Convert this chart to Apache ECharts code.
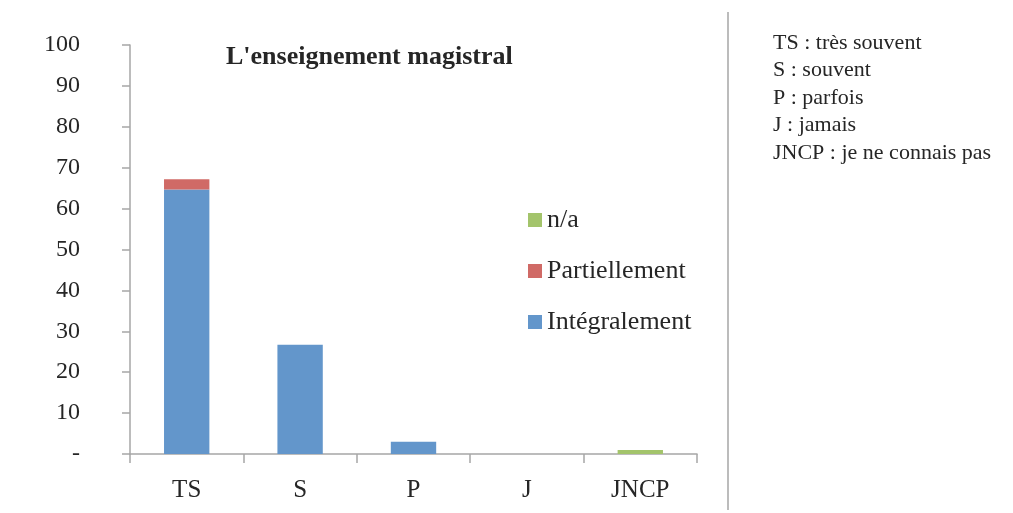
<!DOCTYPE html>
<html>
<head>
<meta charset="utf-8">
<script src="https://cdn.jsdelivr.net/npm/echarts@6/dist/echarts.min.js"></script>
<style>
  html, body { margin: 0; padding: 0; background: #fff; }
  #chartContainer { width: 1013px; height: 513px; }
</style>
</head>
<body>
<div id="chartContainer"></div>
<script>
'use strict';
// donnees
let categories = ['TS', 'S', 'P', 'J', 'JNCP'];
let integralement = [64.7, 26.7, 3.0, 0, 0];
let partiellement = [2.5, 0, 0, 0, 0];
let nonApplicable = [0, 0, 0, 0, 1.0];
let yTicks = [0, 10, 20, 30, 40, 50, 60, 70, 80, 90, 100];
let notes = ['TS : très souvent', 'S : souvent', 'P : parfois', 'J : jamais', 'JNCP : je ne connais pas'];

let serif = ['Liberation Serif', 'DejaVu Serif', 'serif'];

let initChart = (function() {
    let chartContainer = document.getElementById('chartContainer');
    let demoChart = echarts.init(chartContainer);

    let option = {
        backgroundColor: '#fff',
        animation: false,
        title: {
            text: "L'enseignement magistral",
            left: 221,
            top: 39,
            textStyle: {
                fontFamily: serif,
                fontWeight: 'bold',
                fontSize: 26,
                color: '#262626'
            }
        },
        legend: {
            data: [{ name: 'n/a', icon: 'rect' }, { name: 'Partiellement', icon: 'rect' }, { name: 'Intégralement', icon: 'rect' }],
            orient: 'vertical',
            left: 523,
            top: 202,
            itemWidth: 14,
            itemHeight: 14,
            itemGap: 25,
            textStyle: {
                fontFamily: serif,
                fontSize: 26,
                color: '#262626'
            }
        },
        grid: {
            left: 130,
            right: 1013 - 697,
            top: 45,
            bottom: 513 - 454
        },
        xAxis: {
            type: 'category',
            data: categories,
            axisLine: { lineStyle: { color: '#a6a6a6', width: 1.5 } },
            axisTick: { show: true, length: 9, lineStyle: { color: '#a6a6a6', width: 1.5 } },
            axisLabel: {
                margin: 24,
                fontFamily: serif,
                fontSize: 25,
                color: '#262626'
            }
        },
        yAxis: {
            type: 'value',
            min: yTicks[0],
            max: yTicks[yTicks.length - 1],
            interval: 10,
            axisLine: { show: true, lineStyle: { color: '#a6a6a6', width: 1.5 } },
            axisTick: { show: true, length: 8, lineStyle: { color: '#a6a6a6', width: 1.5 } },
            splitLine: { show: false },
            axisLabel: {
                margin: 50,
                fontFamily: serif,
                fontSize: 24,
                color: '#262626',
                formatter: function(v) { return v === 0 ? '-' : String(v); }
            }
        },
        series: [{
            name: 'Intégralement',
            type: 'bar',
            stack: 'total',
            data: integralement,
            barWidth: '40%',
            itemStyle: { color: '#6396cb' }
        }, {
            name: 'Partiellement',
            type: 'bar',
            stack: 'total',
            data: partiellement,
            itemStyle: { color: '#d06a66' }
        }, {
            name: 'n/a',
            type: 'bar',
            stack: 'total',
            data: nonApplicable,
            itemStyle: { color: '#a3c46b' }
        }],
        graphic: [{
            type: 'line',
            shape: { x1: 728, y1: 12, x2: 728, y2: 510 },
            style: { stroke: '#a6a6a6', lineWidth: 1.5 }
        }, {
            type: 'text',
            left: 773,
            top: 29,
            style: {
                text: notes.join('\n'),
                fontFamily: serif,
                fontSize: 22,
                lineHeight: 27.5,
                fill: '#262626'
            }
        }]
    };

    demoChart.setOption(option);
})();
</script>
</body>
</html>
